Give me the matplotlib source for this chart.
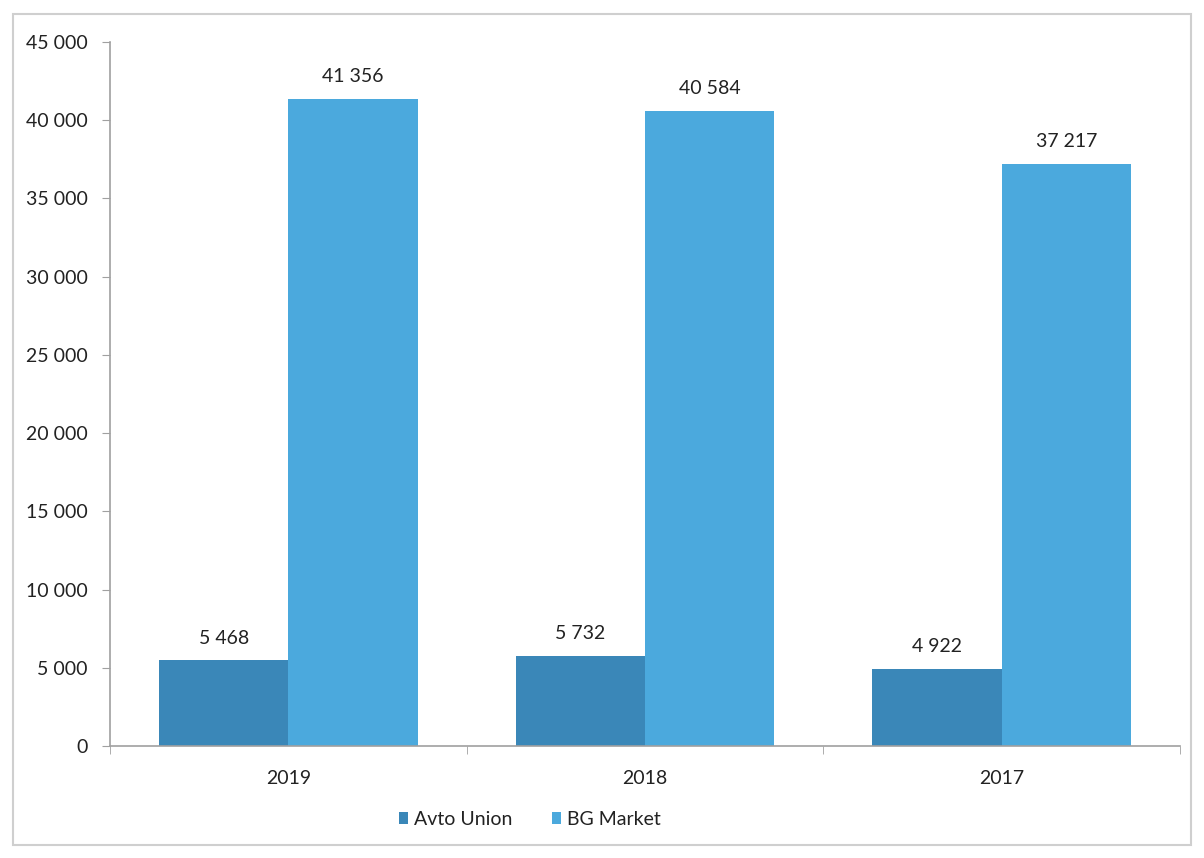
import matplotlib
matplotlib.use("Agg")
import matplotlib.pyplot as plt
import numpy as np
from matplotlib.patches import Rectangle
from matplotlib.ticker import FuncFormatter, MultipleLocator

years = ["2019", "2018", "2017"]
avto_union = [5468, 5732, 4922]
bg_market = [41356, 40584, 37217]
series_names = ["Avto Union", "BG Market"]

plt.rcParams['font.family'] = ['Lato', 'DejaVu Sans']


def spaced(v, pos=None):
    # thousands separated by a space, like the original
    return "{:,}".format(int(v)).replace(",", " ")


fig = plt.figure(figsize=(12.04, 8.58), dpi=100)
ax = fig.add_axes([0.0914, 0.1305, 0.8886, 0.8205])

# outer chart frame
fig.patches.append(Rectangle((0.011, 0.015), 0.978, 0.969, transform=fig.transFigure,
                             fill=False, edgecolor="#cfcfcf", linewidth=1.5))

x = np.arange(len(years))
w = 0.363
b1 = ax.bar(x - w / 2, avto_union, w, color="#3A87B8", label=series_names[0])
b2 = ax.bar(x + w / 2, bg_market, w, color="#4BA9DD", label=series_names[1])

for bars, vals in ((b1, avto_union), (b2, bg_market)):
    for r, v in zip(bars, vals):
        ax.annotate(spaced(v), (r.get_x() + r.get_width() / 2, v),
                    xytext=(0, 10), textcoords="offset points",
                    ha="center", va="bottom", fontsize=14, color="#222222")

ax.set_xlim(-0.5, 2.5)
ax.set_ylim(0, 45000)
ax.yaxis.set_major_locator(MultipleLocator(5000))
ax.yaxis.set_major_formatter(FuncFormatter(spaced))
ax.set_xticks(x)
ax.set_xticklabels(years)
ax.set_xticks([-0.5, 0.5, 1.5, 2.5], minor=True)
ax.tick_params(axis="x", which="major", length=0, labelsize=14, pad=17, labelcolor="#222222")
ax.tick_params(axis="x", which="minor", length=6, color="#a0a0a0", direction="out")
ax.tick_params(axis="y", length=6, color="#a0a0a0", labelsize=14, pad=10, labelcolor="#222222")

for s in ("top", "right"):
    ax.spines[s].set_visible(False)
for s in ("left", "bottom"):
    ax.spines[s].set_color("#a0a0a0")
    ax.spines[s].set_linewidth(1.2)

leg = fig.legend(loc="center", bbox_to_anchor=(0.44, 0.045), ncol=2, frameon=False,
                 fontsize=14, handlelength=0.5, handleheight=0.5, handletextpad=0.3,
                 columnspacing=2.0)
for t in leg.get_texts():
    t.set_color("#222222")

fig.savefig("out.png", dpi=100)
